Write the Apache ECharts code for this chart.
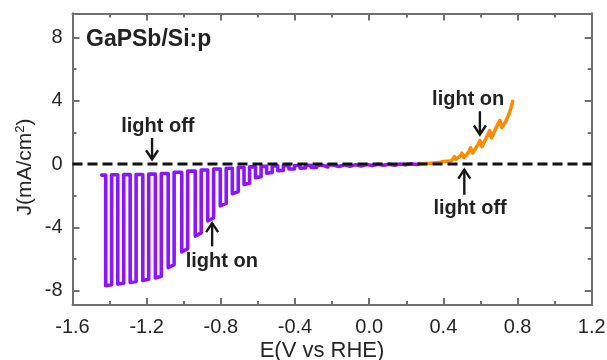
<!DOCTYPE html>
<html><head><meta charset="utf-8">
<script src="https://cdn.jsdelivr.net/npm/echarts@6/dist/echarts.min.js"></script>
<style>html,body{margin:0;padding:0;background:#fff}#c{width:607px;height:360px}</style>
</head><body><div id="c"></div>
<script>
// ---- axis ticks ----
const yMajorTicks = [-8, -4, 0, 4, 8];
const yMinorTicks = [-6, -2, 2, 6];

// ---- purple (chopped, cathodic) : per light-on cycle ----
const purpleStart = [-1.443, -0.70];
const purpleEnd = [0.275, 0.03];
const purpleDropE = [-1.421,-1.356,-1.289,-1.221,-1.153,-1.084,-1.011,-0.938,-0.871,-0.803,-0.738,-0.675,-0.613,-0.553,-0.493,-0.433,-0.373,-0.313,-0.253,-0.193,-0.133,-0.073,-0.013,0.047,0.107,0.167,0.227];
const purpleRiseE = [-1.389,-1.324,-1.257,-1.189,-1.121,-1.052,-0.979,-0.906,-0.839,-0.771,-0.706,-0.645,-0.583,-0.523,-0.463,-0.403,-0.343,-0.283,-0.223,-0.163,-0.103,-0.043,0.017,0.077,0.137,0.197,0.257];
const purpleOnStartJ = [-7.68,-7.58,-7.48,-7.36,-7.20,-6.55,-5.55,-4.55,-3.60,-2.65,-1.88,-1.30,-0.86,-0.58,-0.42,-0.32,-0.26,-0.22,-0.19,-0.16,-0.14,-0.12,-0.10,-0.08,-0.07,-0.05,-0.03];
const purpleOnEndJ   = [-7.62,-7.52,-7.42,-7.28,-7.08,-6.35,-5.35,-4.35,-3.40,-2.48,-1.74,-1.22,-0.80,-0.54,-0.40,-0.31,-0.25,-0.22,-0.19,-0.16,-0.14,-0.12,-0.10,-0.08,-0.07,-0.05,-0.03];
const purpleOffJ     = [-0.68,-0.67,-0.66,-0.64,-0.60,-0.52,-0.45,-0.38,-0.32,-0.27,-0.22,-0.18,-0.15,-0.12,-0.10,-0.09,-0.08,-0.07,-0.06,-0.05,-0.04,-0.03,-0.02,-0.01,0.00,0.01,0.02];

// ---- orange (chopped, anodic) ----
const orangeE = [0.272,0.30,0.33,0.36,0.385,0.40,0.405,0.42,0.428,0.436,0.452,0.46,0.468,0.492,0.50,0.512,0.538,0.547,0.558,0.588,0.598,0.608,0.64,0.65,0.66,0.695,0.705,0.715,0.735,0.752,0.765,0.774];
const orangeJ = [0.02,0.03,0.05,0.08,0.11,0.16,0.12,0.17,0.26,0.17,0.30,0.46,0.30,0.50,0.68,0.40,0.78,1.02,0.70,1.25,1.48,1.10,1.85,2.10,1.65,2.55,2.75,2.30,2.65,3.10,3.55,3.95];

// ---- zero reference line ----
const zeroLineE = [-1.6, 1.2];
const zeroLineJ = [0, 0];

// ---- annotations ----
const labelText = ['light off', 'light on', 'light off', 'light on'];
const labelE = [-1.14, -0.795, 0.544, 0.534];
const labelJ = [2.38, -6.16, -2.78, 4.07];
const arrowE = [-1.171, -0.847, 0.513, 0.597];
const arrowFromJ = [1.65, -5.2, -1.94, 3.33];
const arrowToJ = [0.3, -3.73, -0.36, 1.86];

const FONT = 'Liberation Sans, Arial, Helvetica, sans-serif';
const FRAME = '#707070';
const TXT = '#262626';

const purpleData = [purpleStart];
for (let i = 0; i < purpleDropE.length; i++) {
  const prevOff = i === 0 ? purpleStart[1] : purpleOffJ[i - 1];
  purpleData.push([purpleDropE[i], prevOff]);
  purpleData.push([purpleDropE[i], purpleOnStartJ[i]]);
  purpleData.push([purpleRiseE[i], purpleOnEndJ[i]]);
  purpleData.push([purpleRiseE[i], purpleOffJ[i]]);
}
purpleData.push(purpleEnd);
const orangeData = orangeE.map((e, i) => [e, orangeJ[i]]);
const zeroData = zeroLineE.map((e, i) => [e, zeroLineJ[i]]);

const yMin = -8.9, yMax = 9.5;
function yAx(pos, ticks, len, labels) {
  return {
    type: 'value', position: pos, min: yMin, max: yMax,
    axisLine: { show: true, onZero: false, lineStyle: { color: FRAME, width: 2 } },
    axisTick: { show: true, inside: true, length: len, customValues: ticks, lineStyle: { color: FRAME, width: 2 } },
    axisLabel: labels ? { show: true, customValues: ticks, fontSize: 20, fontFamily: FONT, color: TXT, margin: 10 } : { show: false },
    splitLine: { show: false }
  };
}
function xAx(pos, labels) {
  return {
    type: 'value', position: pos, min: -1.6, max: 1.2, interval: 0.4,
    axisLine: { show: true, onZero: false, lineStyle: { color: FRAME, width: 2 } },
    axisTick: { show: true, inside: true, length: 7, lineStyle: { color: FRAME, width: 2 } },
    minorTick: { show: true, splitNumber: 2, length: 4, lineStyle: { color: FRAME, width: 2 } },
    axisLabel: labels ? { show: true, fontSize: 20, fontFamily: FONT, color: TXT, margin: 12,
      formatter: v => (Math.abs(v) < 1e-9 ? 0 : v).toFixed(1) } : { show: false },
    splitLine: { show: false }, minorSplitLine: { show: false }
  };
}

const chart = echarts.init(document.getElementById('c'), null, { renderer: 'canvas' });
chart.setOption({
  animation: false,
  backgroundColor: '#fff',
  grid: { left: 72.5, right: 15.3, top: 13.5, bottom: 55, containLabel: false, outerBoundsMode: 'none' },
  title: { text: 'GaPSb/Si:p', left: 81, top: 23, textStyle: { fontSize: 23, fontWeight: 'bold', fontFamily: FONT, color: '#222' } },
  xAxis: [xAx('bottom', true), xAx('top', false)],
  yAxis: [yAx('left', yMajorTicks, 7, true), yAx('left', yMinorTicks, 4, false),
          yAx('right', yMajorTicks, 7, false), yAx('right', yMinorTicks, 4, false)],
  graphic: [
    { type: 'text', x: 25, y: 167, rotation: Math.PI / 2,
      style: { text: '{a|J(mA/cm}{s|2}{a|)}', align: 'center', verticalAlign: 'middle',
        rich: { a: { fontSize: 21, fontFamily: FONT, fill: TXT, lineHeight: 22 },
                s: { fontSize: 13, fontFamily: FONT, fill: TXT, lineHeight: 13, verticalAlign: 'top' } } } },
    { type: 'text', x: 322, y: 351,
      style: { text: 'E(V vs RHE)', align: 'center', verticalAlign: 'middle', fontSize: 22, fontFamily: FONT, fill: TXT } }
  ],
  series: [
    { type: 'line', data: purpleData, showSymbol: false, symbol: 'none', z: 3,
      lineStyle: { color: '#8a16ff', width: 3.6, join: 'round', cap: 'round' } },
    { type: 'line', data: orangeData, showSymbol: false, symbol: 'none', z: 3,
      lineStyle: { color: '#ff8c00', width: 3.6, join: 'round', cap: 'round' } },
    { type: 'line', data: zeroData, showSymbol: false, symbol: 'none', z: 5,
      lineStyle: { color: '#111', width: 3, type: [10, 5] } },
    { type: 'custom', z: 6, silent: true,
      data: arrowE.map((e, i) => [e, arrowFromJ[i], arrowToJ[i]]),
      encode: { x: 0, y: 1 },
      renderItem: (params, api) => {
        const p1 = api.coord([api.value(0), api.value(1)]);
        const p2 = api.coord([api.value(0), api.value(2)]);
        const dir = p2[1] > p1[1] ? 1 : -1;
        const hw = 6, hh = 9;
        return { type: 'group', children: [
          { type: 'line', shape: { x1: p1[0], y1: p1[1], x2: p2[0], y2: p2[1] }, style: { stroke: '#161616', lineWidth: 2.4 } },
          { type: 'polyline', shape: { points: [[p2[0] - hw, p2[1] - dir * hh], [p2[0], p2[1]], [p2[0] + hw, p2[1] - dir * hh]] },
            style: { stroke: '#161616', lineWidth: 2.4, fill: null } }
        ] };
      } },
    { type: 'custom', z: 7, silent: true,
      data: labelE.map((e, i) => [e, labelJ[i]]),
      encode: { x: 0, y: 1 },
      renderItem: (params, api) => {
        const p = api.coord([api.value(0), api.value(1)]);
        return { type: 'text', x: p[0], y: p[1],
          style: { text: labelText[params.dataIndex], align: 'center', verticalAlign: 'middle',
            fontSize: 20, fontWeight: 'bold', fontFamily: FONT, fill: '#222' } };
      } }
  ]
});
</script>
</body></html>
